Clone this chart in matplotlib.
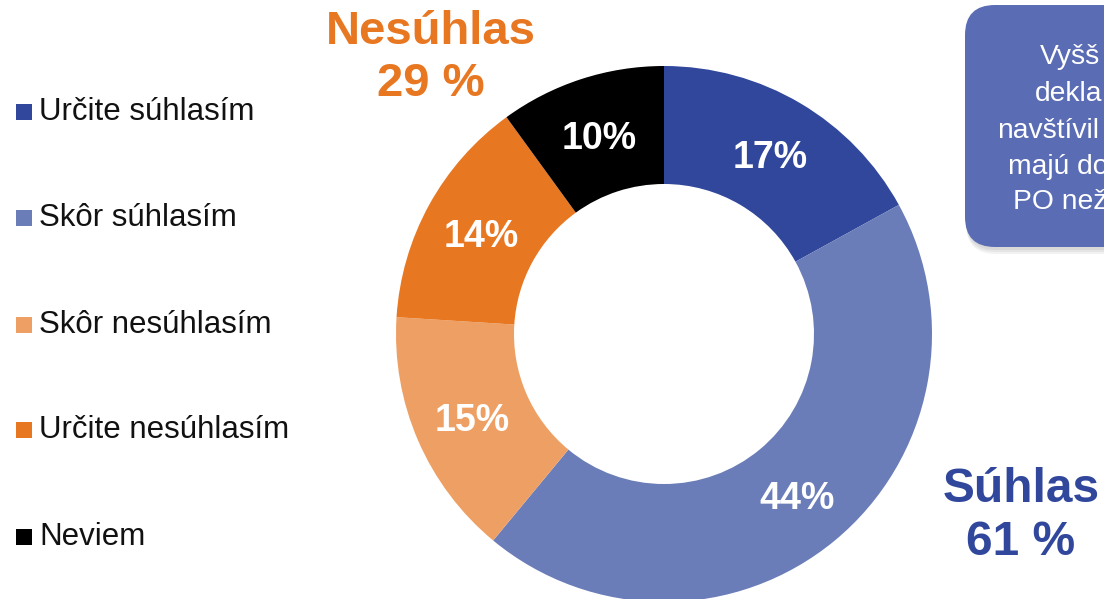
import matplotlib
matplotlib.use("Agg")
import matplotlib.pyplot as plt
from matplotlib.patches import Rectangle, FancyBboxPatch

plt.rcParams['font.family'] = ['Liberation Sans', 'DejaVu Sans']

# ---- data ----
categories = ["Určite súhlasím", "Skôr súhlasím", "Skôr nesúhlasím", "Určite nesúhlasím", "Neviem"]
values = [17, 44, 15, 14, 10]
colors = ["#30479c", "#6b7db8", "#eea064", "#e87722", "#000000"]
group_labels = ["Nesúhlas\n29 %", "Súhlas\n61 %"]
group_colors = ["#e87722", "#30479c"]
box_lines = ["Vyšš", "dekla", "navštívil", "majú do", "PO než"]

W, H = 1104, 599
fig = plt.figure(figsize=(W / 100, H / 100), dpi=100)
ax = fig.add_axes([0, 0, 1, 1])
ax.set_xlim(0, W)
ax.set_ylim(0, H)
ax.set_aspect('equal')
ax.axis('off')

def Y(y):
    return H - y

# donut
cx, cy, R, r_in = 664, 334, 268, 150
wedges, _, autotexts = ax.pie(
    values, colors=colors, startangle=90, counterclock=False,
    center=(cx, Y(cy)), radius=R, frame=True,
    wedgeprops=dict(width=R - r_in, edgecolor='none'),
    autopct=lambda p: f"{p:.0f}%", pctdistance=0.78,
    textprops=dict(color='white', fontsize=27, fontweight='bold'))
for t in autotexts:
    t.set_va('center_baseline')
ax.set_xlim(0, W)
ax.set_ylim(0, H)
ax.axis('off')

# legend
leg_y = [112, 218, 325, 430, 537]
for lab, col, yy in zip(categories, colors, leg_y):
    ax.add_patch(Rectangle((16, Y(yy) - 8), 16, 16, facecolor=col, edgecolor='none'))
    ax.text(39, Y(yy), lab, fontsize=22.5, color='#111111', va='center', ha='left')

# group labels
ax.text(431, Y(58), group_labels[0], fontsize=34, fontweight='bold', color=group_colors[0],
        ha='center', va='center', linespacing=1.22)
ax.text(1021, Y(516), group_labels[1], fontsize=34.5, fontweight='bold', color=group_colors[1],
        ha='center', va='center', linespacing=1.22)

# text box (cut off at right edge)
for i, a in enumerate([0.05, 0.05, 0.05]):
    ax.add_patch(FancyBboxPatch((965 + 1, Y(247) - 3 - 2 * i), 300, 242,
                                boxstyle="round,pad=0,rounding_size=30",
                                facecolor='#000000', edgecolor='none', alpha=a))
ax.add_patch(FancyBboxPatch((965, Y(247)), 300, 242,
                            boxstyle="round,pad=0,rounding_size=30",
                            facecolor='#5a6cb4', edgecolor='none'))
box_x = [1040, 1035, 997, 1008, 1013]
box_y = [57, 94, 131, 167, 202]
for t, xx, yy in zip(box_lines, box_x, box_y):
    ax.text(xx, Y(yy), t, fontsize=20.3, color='white', ha='left', va='center')

fig.savefig("out.png", dpi=100)
